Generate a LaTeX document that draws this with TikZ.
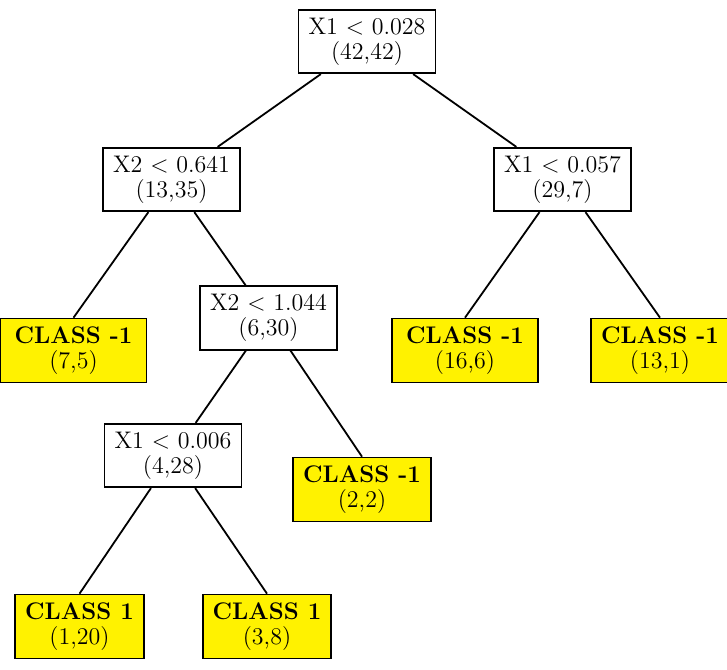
\documentclass[tikz,border=0pt]{standalone}
\usepackage{tikz}
\begin{document}
\begin{tikzpicture}[x=0.5pt,y=-0.5pt,
    split/.style={draw,line width=0.9pt,fill=white,align=center,inner xsep=5pt,inner ysep=4pt,font=\fontsize{12}{12.5}\selectfont},
    leaf/.style={split,fill=yellow},
    wide/.style={minimum width=73pt}]
    \useasboundingbox (0,0) rectangle (727,669);

    %splits
    \node[split] (d1) at (367,41.5) {X1 $<$ 0.028\\(42,42)};
    \node[split] (d2) at (171.5,179.5) {X2 $<$ 0.641\\(13,35)};
    \node[split] (d3) at (562.5,179.5) {X1 $<$ 0.057\\(29,7)};
    \node[split] (d4) at (268.5,318) {X2 $<$ 1.044\\(6,30)};
    \node[split] (d5) at (173,455.5) {X1 $<$ 0.006\\(4,28)};

    %leaves
    \node[leaf,wide] (l1) at (73.5,350.5) {\textbf{CLASS -1}\\(7,5)};
    \node[leaf,wide] (l2) at (465,350.5) {\textbf{CLASS -1}\\(16,6)};
    \node[leaf] (l3) at (660,350.5) {\textbf{CLASS -1}\\(13,1)};
    \node[leaf] (l4) at (362,489.5) {\textbf{CLASS -1}\\(2,2)};
    \node[leaf] (l5) at (79.5,626.5) {\textbf{CLASS 1}\\(1,20)};
    \node[leaf] (l6) at (267,626.5) {\textbf{CLASS 1}\\(3,8)};

    \draw[line width=0.9pt] (d1) -- (d2) -- (d4) -- (d5);
    \draw[line width=0.9pt] (d1) -- (d3);
    \draw[line width=0.9pt] (d2) -- (l1.north);
    \draw[line width=0.9pt] (d3) -- (l2.north);
    \draw[line width=0.9pt] (d3) -- (l3.north);
    \draw[line width=0.9pt] (d4) -- (l4.north);
    \draw[line width=0.9pt] (d5) -- (l5.north);
    \draw[line width=0.9pt] (d5) -- (l6.north);

\end{tikzpicture}
\end{document}
